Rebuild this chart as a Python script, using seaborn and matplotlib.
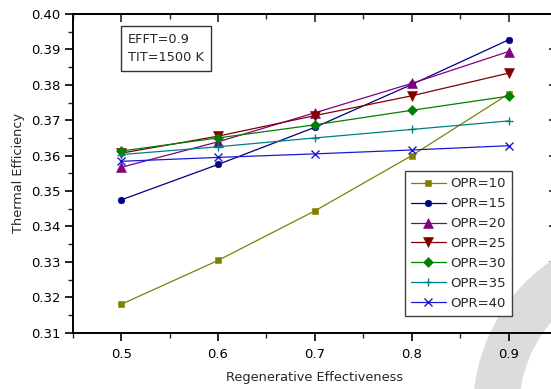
import matplotlib
matplotlib.use("Agg")
import matplotlib.pyplot as plt
import seaborn as sns
import pandas as pd
from matplotlib.patches import Wedge
from matplotlib.ticker import MultipleLocator

# ---- data ----
regen_eff = [0.5, 0.6, 0.7, 0.8, 0.9]
opr10 = [0.3180, 0.3304, 0.3444, 0.3600, 0.3774]
opr15 = [0.3475, 0.3575, 0.3680, 0.3801, 0.3927]
opr20 = [0.3567, 0.3639, 0.3721, 0.3804, 0.3894]
opr25 = [0.3607, 0.3655, 0.3713, 0.3769, 0.3833]
opr30 = [0.3613, 0.3650, 0.3687, 0.3728, 0.3768]
opr35 = [0.3603, 0.3625, 0.3650, 0.3674, 0.3698]
opr40 = [0.3584, 0.3595, 0.3605, 0.3616, 0.3628]
series_labels = ["OPR=10", "OPR=15", "OPR=20", "OPR=25", "OPR=30", "OPR=35", "OPR=40"]
series_values = [opr10, opr15, opr20, opr25, opr30, opr35, opr40]
xticks = [0.5, 0.6, 0.7, 0.8, 0.9]
yticks = [0.31, 0.32, 0.33, 0.34, 0.35, 0.36, 0.37, 0.38, 0.39, 0.40]

colors = ["#808000", "#000080", "#800080", "#800000", "#008000", "#008080", "#1a1ad0"]
markers = ["s", "o", "^", "v", "D", "+", "x"]
msizes = [4.6, 4.8, 6.5, 6.5, 5.0, 5.5, 6.0]

rows = []
for lab, vals in zip(series_labels, series_values):
    for x, y in zip(regen_eff, vals):
        rows.append({"Regenerative Effectiveness": x, "Thermal Efficiency": y, "OPR": lab})
df = pd.DataFrame(rows)

sns.set_style("ticks")
plt.rcParams["font.family"] = ["DejaVu Sans"]

fig = plt.figure(figsize=(5.51, 3.89), dpi=100)
W, H = 551, 389
left_px, right_px, top_px, bottom_px = 72.7, 557.0, 14.0, 332.7
ax = fig.add_axes([left_px / W, 1 - bottom_px / H, (right_px - left_px) / W, (bottom_px - top_px) / H])

# watermark arc (pixel coordinates)
wedge = Wedge((655, 389 - 410), 182, 0, 360, width=46, transform=None,
              facecolor="#dcdcdc", edgecolor="none", zorder=0.5, clip_on=False)
ax.add_artist(wedge)

for lab, c, m, ms in zip(series_labels, colors, markers, msizes):
    sub = df[df["OPR"] == lab]
    sns.lineplot(data=sub, x="Regenerative Effectiveness", y="Thermal Efficiency",
                 ax=ax, color=c, marker=m, markersize=ms, linewidth=0.9,
                 markeredgecolor=c, markeredgewidth=1.0 if m in ["+", "x"] else 0.4,
                 label=lab, zorder=3)

ax.set_xlim(0.45, 0.95)
ax.set_ylim(0.31, 0.40)
ax.set_xticks(xticks)
ax.set_yticks(yticks)
ax.xaxis.set_minor_locator(MultipleLocator(0.05))
ax.yaxis.set_minor_locator(MultipleLocator(0.005))
ax.set_xticklabels([f"{v:.1f}" for v in xticks])
ax.set_yticklabels([f"{v:.2f}" for v in yticks])
ax.tick_params(axis="both", which="major", direction="out", length=6, width=1.2,
               labelsize=9.5, colors="black", pad=3)
ax.tick_params(axis="both", which="minor", direction="out", length=3.5, width=1.0)
ax.tick_params(axis="x", which="major", pad=5)

for s in ax.spines.values():
    s.set_linewidth(1.4)
    s.set_color("black")

# mirrored ticks on top/right pointing inward
secx = ax.secondary_xaxis("top")
secx.set_xticks(xticks)
secx.xaxis.set_minor_locator(MultipleLocator(0.05))
secx.tick_params(which="major", direction="in", length=6, width=1.2, labeltop=False)
secx.tick_params(which="minor", direction="in", length=3.5, width=1.0)
secx.spines["top"].set_linewidth(1.4)
secy = ax.secondary_yaxis("right")
secy.set_yticks(yticks)
secy.yaxis.set_minor_locator(MultipleLocator(0.005))
secy.tick_params(which="major", direction="in", length=6, width=1.2, labelright=False)
secy.tick_params(which="minor", direction="in", length=3.5, width=1.0)

ax.set_xlabel("Regenerative Effectiveness", fontsize=9.3, labelpad=7)
ax.set_ylabel("Thermal Efficiency", fontsize=9.3, labelpad=4)

leg = ax.legend(loc="upper left", bbox_to_anchor=(0.6855, 0.508), borderaxespad=0,
                fontsize=9.5, frameon=True, fancybox=False, edgecolor="#404040",
                framealpha=1, handlelength=2.6, labelspacing=0.52, borderpad=0.5,
                handletextpad=0.35)
leg.get_frame().set_linewidth(1.0)
leg.set_zorder(5)

ax.text(0.114, 0.94, "EFFT=0.9\nTIT=1500 K", transform=ax.transAxes, fontsize=9.3,
        va="top", ha="left", linespacing=1.45,
        bbox=dict(boxstyle="square,pad=0.55", facecolor="white", edgecolor="#333333", linewidth=1.0))

fig.savefig("out.png", dpi=100)
